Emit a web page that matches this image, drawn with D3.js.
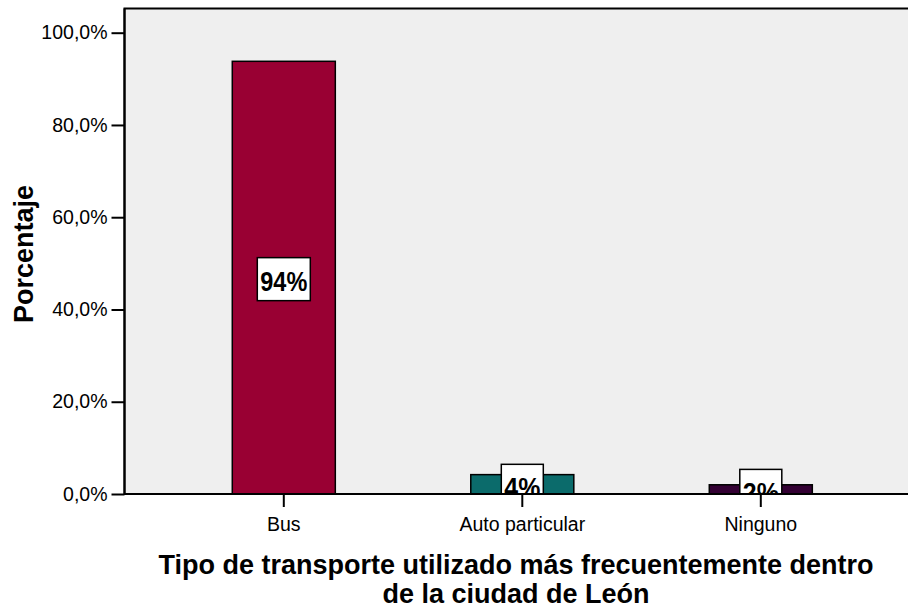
<!DOCTYPE html>
<html>
<head>
<meta charset="utf-8">
<script src="https://cdn.jsdelivr.net/npm/d3@7"></script>
<style>
  html, body { margin: 0; padding: 0; background: #ffffff; }
  svg { display: block; font-family: "Liberation Sans", Arial, sans-serif; }
</style>
</head>
<body>
<svg id="chart" width="908" height="609"></svg>
<script>
// Medio de transporte más usado dentro de la ciudad (porcentaje de respuestas)
const categories = ["Bus", "Auto particular", "Ninguno"];
const percentages = [93.8, 4.2, 2.0];
const barColors = ["#990033", "#0b6b6b", "#330033"];
const yTicks = [0, 20, 40, 60, 80, 100];
const yAxisTitle = "Porcentaje";
const xAxisTitle = ["Tipo de transporte utilizado más frecuentemente dentro", "de la ciudad de León"];

const svg = d3.select("#chart");
const plot = { left: 124.5, top: 8.5, right: 925, bottom: 494 };

const y = d3.scaleLinear().domain([0, 100]).range([plot.bottom, 32.7]);
const x = d3.scaleBand().domain(categories)
  .range([164.55, 880.05]).paddingInner(0.568).paddingOuter(0.284);

// plot background and frame
svg.append("rect")
  .attr("x", plot.left).attr("y", plot.top)
  .attr("width", plot.right - plot.left).attr("height", plot.bottom - plot.top)
  .attr("fill", "#efefef").attr("stroke", "#000").attr("stroke-width", 2);

svg.append("defs").append("clipPath").attr("id", "plotClip")
  .append("rect")
  .attr("x", plot.left).attr("y", plot.top)
  .attr("width", plot.right - plot.left).attr("height", plot.bottom - plot.top);

const g = svg.append("g").attr("clip-path", "url(#plotClip)");

// bars
g.selectAll("rect.bar").data(categories).join("rect")
  .attr("class", "bar")
  .attr("x", d => x(d))
  .attr("width", x.bandwidth())
  .attr("y", (d, i) => y(percentages[i]))
  .attr("height", (d, i) => plot.bottom - y(percentages[i]))
  .attr("fill", (d, i) => barColors[i])
  .attr("stroke", "#000").attr("stroke-width", 1.5);

// value labels in white boxes
const fmt = v => d3.format(".0f")(v) + "%";
const labels = g.selectAll("g.lbl").data(categories).join("g").attr("class", "lbl");
labels.each(function (d, i) {
  const cx = x(d) + x.bandwidth() / 2;
  const mid = (y(percentages[i]) + plot.bottom) / 2;
  const baseline = mid + 13;
  const label = fmt(percentages[i]);
  const w = label.length === 3 ? 47 : 36;
  d3.select(this).append("rect")
    .attr("x", cx - w / 2 - 3).attr("y", baseline - 33)
    .attr("width", w + 6).attr("height", 43)
    .attr("fill", "#fff").attr("stroke", "#000").attr("stroke-width", 1.5);
  d3.select(this).append("text")
    .attr("x", cx).attr("y", baseline)
    .attr("text-anchor", "middle")
    .attr("font-size", 27).attr("font-weight", "bold")
    .attr("textLength", w).attr("lengthAdjust", "spacingAndGlyphs")
    .text(label);
});

// axes
const yAxis = d3.axisLeft(y).tickValues(yTicks)
  .tickFormat(v => d3.format(".1f")(v).replace(".", ",") + "%")
  .tickSize(13).tickPadding(4);
const gy = svg.append("g").attr("transform", `translate(${plot.left},0)`).call(yAxis);
gy.select(".domain").remove();
gy.selectAll(".tick line").attr("stroke", "#000").attr("stroke-width", 2);
gy.selectAll(".tick text").attr("font-size", 19.5).attr("fill", "#000")
  .attr("font-family", "'Liberation Sans', Arial, sans-serif");

const xAxis = d3.axisBottom(x).tickSize(13).tickPadding(10);
const gx = svg.append("g").attr("transform", `translate(0,${plot.bottom})`).call(xAxis);
gx.select(".domain").remove();
gx.selectAll(".tick line").attr("stroke", "#000").attr("stroke-width", 2);
gx.selectAll(".tick text").attr("font-size", 19.5).attr("fill", "#000")
  .attr("font-family", "'Liberation Sans', Arial, sans-serif");

// axis lines on top
svg.append("line").attr("x1", plot.left).attr("x2", plot.right)
  .attr("y1", plot.bottom).attr("y2", plot.bottom)
  .attr("stroke", "#000").attr("stroke-width", 2);
svg.append("line").attr("x1", plot.left).attr("x2", plot.left)
  .attr("y1", plot.top).attr("y2", plot.bottom)
  .attr("stroke", "#000").attr("stroke-width", 2);

// axis titles
svg.append("text")
  .attr("transform", "translate(33,254) rotate(-90)")
  .attr("text-anchor", "middle")
  .attr("font-size", 27).attr("font-weight", "bold")
  .text(yAxisTitle);

svg.selectAll("text.xtitle").data(xAxisTitle).join("text")
  .attr("class", "xtitle")
  .attr("text-anchor", "middle")
  .attr("font-size", 27).attr("font-weight", "bold")
  .attr("x", 516).attr("y", (d, i) => 574 + i * 28.5)
  .text(d => d);
</script>
</body>
</html>
